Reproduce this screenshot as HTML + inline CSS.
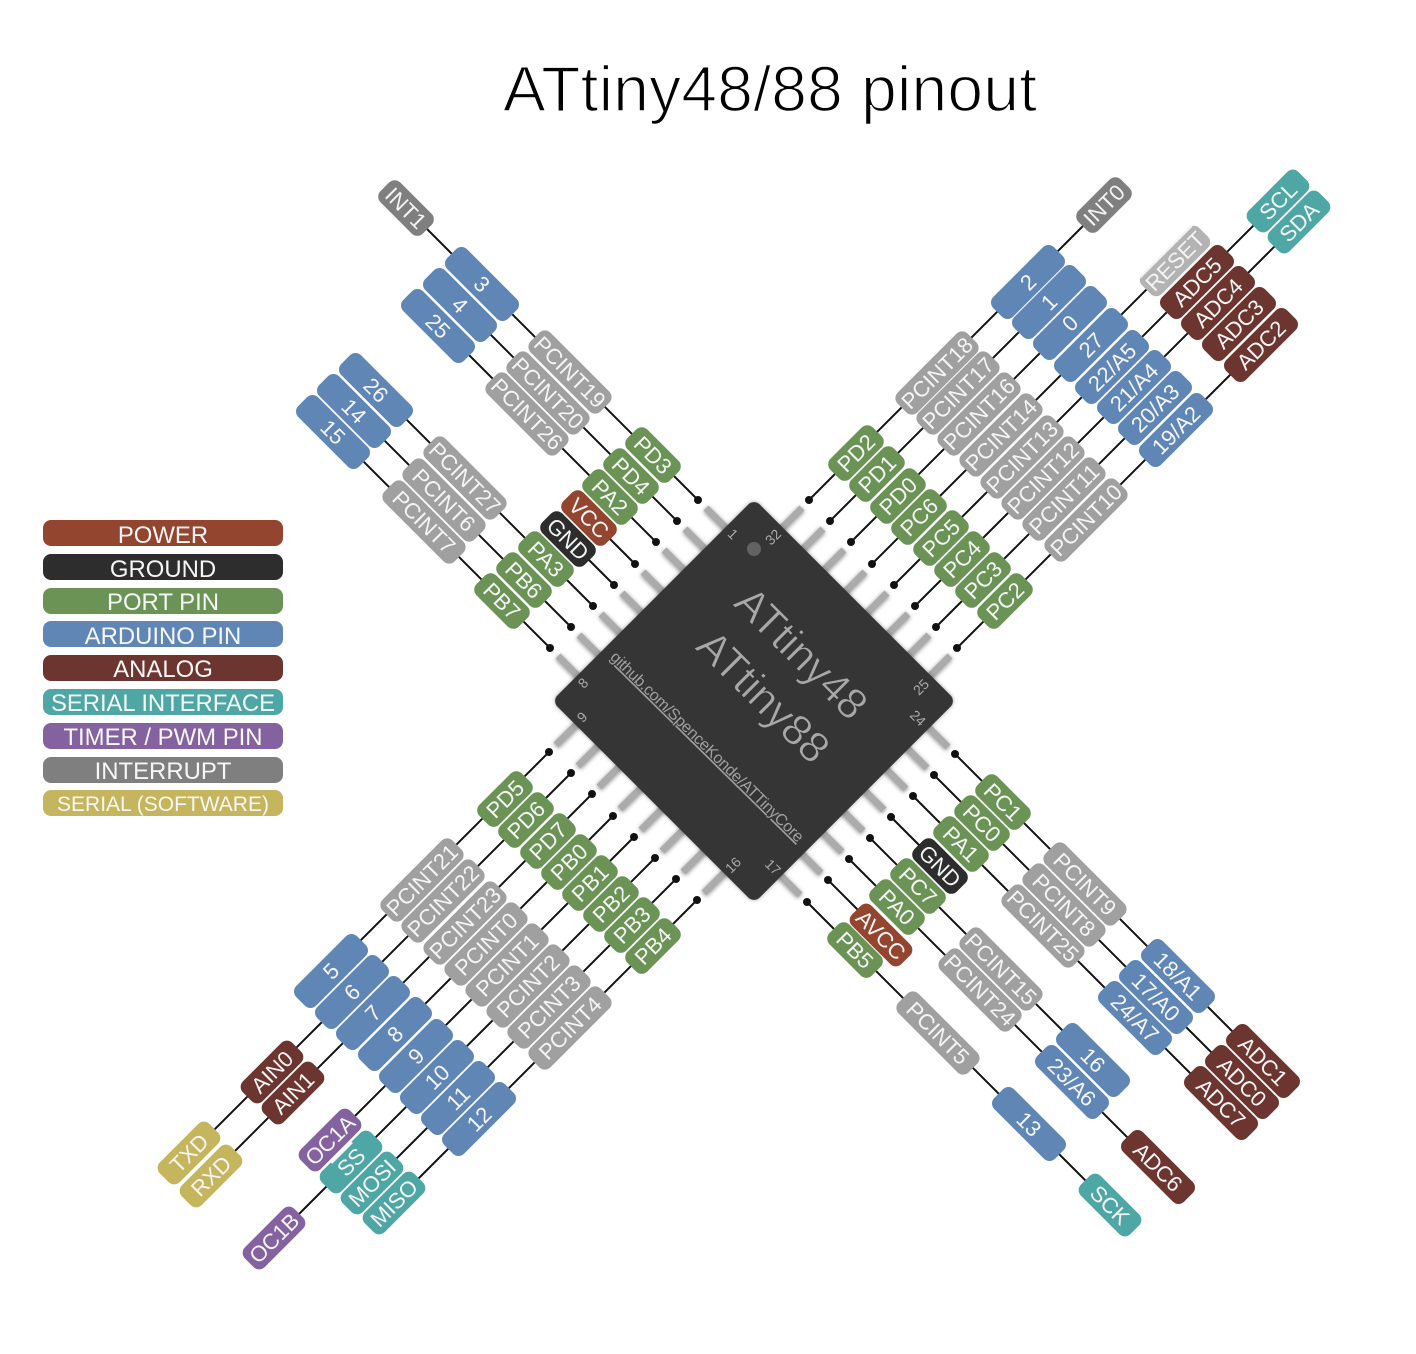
<!DOCTYPE html>
<html><head><meta charset="utf-8"><title>ATtiny48/88 pinout</title>
<style>
html,body{margin:0;padding:0;background:#fff}
svg{display:block}
text{font-family:"Liberation Sans",sans-serif}
.P text{font-size:22px;fill:#f4f4f4;text-anchor:middle;transform:translateY(.8px)}
.P rect{y:-14px;height:28px;rx:8px;ry:8px}
.s{x:-30px;width:60px}.m{x:-35px;width:70px}.a{x:-43px;width:86px}.c{x:-49.5px;width:99px}.r{x:-40.5px;width:81px}
.pow{fill:#93452f}.gnd{fill:#2d2d2d}.prt{fill:#6c9356}.ard{fill:#5f86b4}.ana{fill:#6c3530}.ser{fill:#4ea7a5}.tim{fill:#84619f}.int{fill:#7f7f7f}.sft{fill:#c5b55d}.pci{fill:#a0a0a0}.rst{fill:#b3b3b3}
.L text{font-size:23.9px;fill:#f6f6f6;text-anchor:middle}
.n{font-size:14px;fill:#aaa;text-anchor:middle}
</style></head><body>
<svg xmlns="http://www.w3.org/2000/svg" width="1416" height="1354" viewBox="0 0 1416 1354">
<defs><filter id="sh" x="-10%" y="-10%" width="120%" height="120%"><feDropShadow dx="0" dy="1" stdDeviation="2.2" flood-color="#000" flood-opacity=".45"/></filter>
<filter id="cs" x="-10%" y="-10%" width="120%" height="120%"><feDropShadow dx="0" dy="0" stdDeviation="2" flood-color="#000" flood-opacity=".35"/></filter></defs>

<text x="503" y="111" font-size="64" fill="#000" stroke="#fff" stroke-width="1.5" textLength="534">ATtiny48/88 pinout</text>

<!-- legend -->
<g class="L">
<rect x="43" y="520" width="240" height="26" rx="8" class="pow"/><text x="163" y="543">POWER</text>
<rect x="43" y="554" width="240" height="26" rx="8" class="gnd"/><text x="163" y="577">GROUND</text>
<rect x="43" y="588" width="240" height="26" rx="8" class="prt"/><text x="163" y="610">PORT PIN</text>
<rect x="43" y="621" width="240" height="26" rx="8" class="ard"/><text x="163" y="644">ARDUINO PIN</text>
<rect x="43" y="655" width="240" height="26" rx="8" class="ana"/><text x="163" y="677">ANALOG</text>
<rect x="43" y="689" width="240" height="26" rx="8" class="ser"/><text x="163" y="711" textLength="224">SERIAL INTERFACE</text>
<rect x="43" y="723" width="240" height="26" rx="8" class="tim"/><text x="163" y="745">TIMER / PWM PIN</text>
<rect x="43" y="757" width="240" height="26" rx="8" class="int"/><text x="163" y="779">INTERRUPT</text>
<rect x="43" y="790" width="240" height="26" rx="8" class="sft"/><text x="163" y="811" style="font-size:21px">SERIAL (SOFTWARE)</text>
</g>

<!-- connector lines -->
<g stroke="#111" stroke-width="2" fill="none">
<path d="M698 500L406 208M677 521L460 304M656 542L438 324M635 564L589 518M614 585L568 539M593 606L375 388M571 627L354 410M550 648L333 431"/>
<path d="M809 500L1104 205M830 521L1049 302M851 542L1070 323M872 564L1175 261M894 585L1278 201M915 606L1299 222M936 627L1155 408M957 648L1261 344"/>
<path d="M549 752L331 970M571 773L189 1155M592 794L211 1175M613 816L395 1034M634 837L330 1141M655 858L274 1239M676 879L372 1183M697 900L394 1203"/>
<path d="M955 754L1263 1062M934 775L1242 1083M913 796L1221 1104M891 817L940 866M870 838L1093 1061M849 859L1158 1168M828 880L881 933M807 902L1110 1205"/>
</g>
<g fill="#111">
<circle cx="698" cy="500" r="4"/><circle cx="677" cy="521" r="4"/><circle cx="656" cy="542" r="4"/><circle cx="635" cy="564" r="4"/><circle cx="614" cy="585" r="4"/><circle cx="593" cy="606" r="4"/><circle cx="571" cy="627" r="4"/><circle cx="550" cy="648" r="4"/>
<circle cx="809" cy="500" r="4"/><circle cx="830" cy="521" r="4"/><circle cx="851" cy="542" r="4"/><circle cx="872" cy="564" r="4"/><circle cx="894" cy="585" r="4"/><circle cx="915" cy="606" r="4"/><circle cx="936" cy="627" r="4"/><circle cx="957" cy="648" r="4"/>
<circle cx="549" cy="752" r="4"/><circle cx="571" cy="773" r="4"/><circle cx="592" cy="794" r="4"/><circle cx="613" cy="816" r="4"/><circle cx="634" cy="837" r="4"/><circle cx="655" cy="858" r="4"/><circle cx="676" cy="879" r="4"/><circle cx="697" cy="900" r="4"/>
<circle cx="955" cy="754" r="4"/><circle cx="934" cy="775" r="4"/><circle cx="913" cy="796" r="4"/><circle cx="891" cy="817" r="4"/><circle cx="870" cy="838" r="4"/><circle cx="849" cy="859" r="4"/><circle cx="828" cy="880" r="4"/><circle cx="807" cy="902" r="4"/>
</g>

<!-- leads -->
<g stroke="#ababab" stroke-width="7" fill="none" filter="url(#sh)">
<path d="M706 508l34 34M685 529l34 34M664 550l34 34M643 572l34 34M622 593l34 34M601 614l34 34M579 635l34 34M558 656l34 34"/>
<path d="M802 508l-34 34M823 529l-34 34M844 550l-34 34M865 572l-34 34M887 593l-34 34M908 614l-34 34M929 635l-34 34M950 656l-34 34"/>
<path d="M556 745l34 -34M578 766l34 -34M599 787l34 -34M620 809l34 -34M641 830l34 -34M662 851l34 -34M683 872l34 -34M704 893l34 -34"/>
<path d="M948 747l-34 -34M927 768l-34 -34M906 789l-34 -34M884 810l-34 -34M863 831l-34 -34M842 852l-34 -34M821 873l-34 -34M800 895l-34 -34"/>
</g>

<!-- chip -->
<g transform="translate(754 701) rotate(45)" filter="url(#cs)"><rect x="-143" y="-143" width="286" height="286" rx="8" fill="#363636"/></g>
<circle cx="754" cy="549" r="7" fill="#626262"/>
<g fill="#a8a8a8" text-anchor="middle">
<g transform="translate(802 652.5) rotate(45)"><text y="15.5" font-size="43" stroke="#363636" stroke-width=".7">ATtiny48</text></g>
<g transform="translate(764 696) rotate(45)"><text y="15.5" font-size="43" stroke="#363636" stroke-width=".7">ATtiny88</text></g>
<g transform="translate(707 747) rotate(44.5)"><text y="5" font-size="16" textLength="264" fill="#a0a0a0" style="text-decoration:underline">github.com/SpenceKonde/ATTinyCore</text></g>
</g>
<text class="n" transform="translate(733 534) rotate(45)" y="5">1</text>
<text class="n" transform="translate(773 537) rotate(-45)" y="5">32</text>
<text class="n" transform="translate(583 683) rotate(-45)" y="5">8</text>
<text class="n" transform="translate(582 717) rotate(-45)" y="5">9</text>
<text class="n" transform="translate(733 865) rotate(-45)" y="5">16</text>
<text class="n" transform="translate(773 867) rotate(45)" y="5">17</text>
<text class="n" transform="translate(921 687) rotate(-45)" y="5">25</text>
<text class="n" transform="translate(918 718) rotate(45)" y="5">24</text>

<!-- pills: upper-left -->
<g class="P">
<g transform="translate(406 208) rotate(45)"><rect class="s int"/><text y="7">INT1</text></g>
<g transform="translate(653 455) rotate(45)"><rect class="s prt"/><text y="7">PD3</text></g>
<g transform="translate(570 372) rotate(45)"><rect class="c pci"/><text y="7">PCINT19</text></g>
<g transform="translate(482 284) rotate(45)"><rect class="a ard"/><text y="7">3</text></g>
<g transform="translate(631 476) rotate(45)"><rect class="s prt"/><text y="7">PD4</text></g>
<g transform="translate(548 393) rotate(45)"><rect class="c pci"/><text y="7">PCINT20</text></g>
<g transform="translate(460 305) rotate(45)"><rect class="a ard"/><text y="7">4</text></g>
<g transform="translate(610 497) rotate(45)"><rect class="s prt"/><text y="7">PA2</text></g>
<g transform="translate(527 414) rotate(45)"><rect class="c pci"/><text y="7">PCINT26</text></g>
<g transform="translate(438 326) rotate(45)"><rect class="a ard"/><text y="7">25</text></g>
<g transform="translate(589 518) rotate(45)"><rect class="s pow"/><text y="7">VCC</text></g>
<g transform="translate(568 539) rotate(45)"><rect class="s gnd"/><text y="7">GND</text></g>
<g transform="translate(546 559) rotate(45)"><rect class="s prt"/><text y="7">PA3</text></g>
<g transform="translate(465 478) rotate(45)"><rect class="c pci"/><text y="7">PCINT27</text></g>
<g transform="translate(376 390) rotate(45)"><rect class="a ard"/><text y="7">26</text></g>
<g transform="translate(524 580) rotate(45)"><rect class="s prt"/><text y="7">PB6</text></g>
<g transform="translate(444 500) rotate(45)"><rect class="c pci"/><text y="7">PCINT6</text></g>
<g transform="translate(354 411) rotate(45)"><rect class="a ard"/><text y="7">14</text></g>
<g transform="translate(502 601) rotate(45)"><rect class="s prt"/><text y="7">PB7</text></g>
<g transform="translate(424 522) rotate(45)"><rect class="c pci"/><text y="7">PCINT7</text></g>
<g transform="translate(333 432) rotate(45)"><rect class="a ard"/><text y="7">15</text></g>

<!-- upper-right -->
<g transform="translate(1104 205) rotate(-45)"><rect class="s int"/><text y="7">INT0</text></g>
<g transform="translate(856 453) rotate(-45)"><rect class="s prt"/><text y="7">PD2</text></g>
<g transform="translate(937 373) rotate(-45)"><rect class="c pci"/><text y="7">PCINT18</text></g>
<g transform="translate(1028 282) rotate(-45)"><rect class="a ard"/><text y="7">2</text></g>
<g transform="translate(877 474) rotate(-45)"><rect class="s prt"/><text y="7">PD1</text></g>
<g transform="translate(958 393) rotate(-45)"><rect class="c pci"/><text y="7">PCINT17</text></g>
<g transform="translate(1049 302) rotate(-45)"><rect class="a ard"/><text y="7">1</text></g>
<g transform="translate(898 496) rotate(-45)"><rect class="s prt"/><text y="7">PD0</text></g>
<g transform="translate(979 414) rotate(-45)"><rect class="c pci"/><text y="7">PCINT16</text></g>
<g transform="translate(1070 323) rotate(-45)"><rect class="a ard"/><text y="7">0</text></g>
<g transform="translate(919 517) rotate(-45)"><rect class="s prt"/><text y="7">PC6</text></g>
<g transform="translate(1001 435) rotate(-45)"><rect class="c pci"/><text y="7">PCINT14</text></g>
<g transform="translate(1091 345) rotate(-45)"><rect class="a ard"/><text y="7">27</text></g>
<g transform="translate(1175 261) rotate(-45)"><rect class="r rst"/><text y="7" style="text-decoration:overline">RESET</text></g>
<g transform="translate(941 538) rotate(-45)"><rect class="s prt"/><text y="7">PC5</text></g>
<g transform="translate(1022 457) rotate(-45)"><rect class="c pci"/><text y="7">PCINT13</text></g>
<g transform="translate(1112 367) rotate(-45)"><rect class="a ard"/><text y="7">22/A5</text></g>
<g transform="translate(1197 282) rotate(-45)"><rect class="a ana"/><text y="7">ADC5</text></g>
<g transform="translate(1278 201) rotate(-45)"><rect class="m ser"/><text y="7">SCL</text></g>
<g transform="translate(962 559) rotate(-45)"><rect class="s prt"/><text y="7">PC4</text></g>
<g transform="translate(1043 478) rotate(-45)"><rect class="c pci"/><text y="7">PCINT12</text></g>
<g transform="translate(1134 387) rotate(-45)"><rect class="a ard"/><text y="7">21/A4</text></g>
<g transform="translate(1218 303) rotate(-45)"><rect class="a ana"/><text y="7">ADC4</text></g>
<g transform="translate(1299 222) rotate(-45)"><rect class="m ser"/><text y="7">SDA</text></g>
<g transform="translate(983 580) rotate(-45)"><rect class="s prt"/><text y="7">PC3</text></g>
<g transform="translate(1064 499) rotate(-45)"><rect class="c pci"/><text y="7">PCINT11</text></g>
<g transform="translate(1155 408) rotate(-45)"><rect class="a ard"/><text y="7">20/A3</text></g>
<g transform="translate(1239 324) rotate(-45)"><rect class="a ana"/><text y="7">ADC3</text></g>
<g transform="translate(1005 601) rotate(-45)"><rect class="s prt"/><text y="7">PC2</text></g>
<g transform="translate(1086 520) rotate(-45)"><rect class="c pci"/><text y="7">PCINT10</text></g>
<g transform="translate(1176 430) rotate(-45)"><rect class="a ard"/><text y="7">19/A2</text></g>
<g transform="translate(1261 345) rotate(-45)"><rect class="a ana"/><text y="7">ADC2</text></g>

<!-- lower-left -->
<g transform="translate(505 799) rotate(-45)"><rect class="s prt"/><text y="7">PD5</text></g>
<g transform="translate(422 880) rotate(-45)"><rect class="c pci"/><text y="7">PCINT21</text></g>
<g transform="translate(331 971) rotate(-45)"><rect class="a ard"/><text y="7">5</text></g>
<g transform="translate(526 820) rotate(-45)"><rect class="s prt"/><text y="7">PD6</text></g>
<g transform="translate(443 901) rotate(-45)"><rect class="c pci"/><text y="7">PCINT22</text></g>
<g transform="translate(352 992) rotate(-45)"><rect class="a ard"/><text y="7">6</text></g>
<g transform="translate(272 1072) rotate(-45)"><rect class="m ana"/><text y="7">AIN0</text></g>
<g transform="translate(189 1153) rotate(-45)"><rect class="m sft"/><text y="7">TXD</text></g>
<g transform="translate(548 841) rotate(-45)"><rect class="s prt"/><text y="7">PD7</text></g>
<g transform="translate(465 923) rotate(-45)"><rect class="c pci"/><text y="7">PCINT23</text></g>
<g transform="translate(373 1013) rotate(-45)"><rect class="a ard"/><text y="7">7</text></g>
<g transform="translate(293 1093) rotate(-45)"><rect class="m ana"/><text y="7">AIN1</text></g>
<g transform="translate(211 1176) rotate(-45)"><rect class="m sft"/><text y="7">RXD</text></g>
<g transform="translate(569 862) rotate(-45)"><rect class="s prt"/><text y="7">PB0</text></g>
<g transform="translate(486 944) rotate(-45)"><rect class="c pci"/><text y="7">PCINT0</text></g>
<g transform="translate(395 1034) rotate(-45)"><rect class="a ard"/><text y="7">8</text></g>
<g transform="translate(590 883) rotate(-45)"><rect class="s prt"/><text y="7">PB1</text></g>
<g transform="translate(507 965) rotate(-45)"><rect class="c pci"/><text y="7">PCINT1</text></g>
<g transform="translate(416 1056) rotate(-45)"><rect class="a ard"/><text y="7">9</text></g>
<g transform="translate(330 1140) rotate(-45)"><rect class="m tim"/><text y="7">OC1A</text></g>
<g transform="translate(611 904) rotate(-45)"><rect class="s prt"/><text y="7">PB2</text></g>
<g transform="translate(528 986) rotate(-45)"><rect class="c pci"/><text y="7">PCINT2</text></g>
<g transform="translate(437 1077) rotate(-45)"><rect class="a ard"/><text y="7">10</text></g>
<g transform="translate(351 1162) rotate(-45)"><rect class="m ser"/><text y="7" style="text-decoration:overline">SS</text></g>
<g transform="translate(274 1238) rotate(-45)"><rect class="m tim"/><text y="7">OC1B</text></g>
<g transform="translate(632 925) rotate(-45)"><rect class="s prt"/><text y="7">PB3</text></g>
<g transform="translate(549 1007) rotate(-45)"><rect class="c pci"/><text y="7">PCINT3</text></g>
<g transform="translate(458 1098) rotate(-45)"><rect class="a ard"/><text y="7">11</text></g>
<g transform="translate(372 1183) rotate(-45)"><rect class="m ser"/><text y="7">MOSI</text></g>
<g transform="translate(653 946) rotate(-45)"><rect class="s prt"/><text y="7">PB4</text></g>
<g transform="translate(570 1028) rotate(-45)"><rect class="c pci"/><text y="7">PCINT4</text></g>
<g transform="translate(479 1119) rotate(-45)"><rect class="a ard"/><text y="7">12</text></g>
<g transform="translate(394 1203) rotate(-45)"><rect class="m ser"/><text y="7">MISO</text></g>

<!-- lower-right -->
<g transform="translate(1003 802) rotate(45)"><rect class="s prt"/><text y="7">PC1</text></g>
<g transform="translate(1085 884) rotate(45)"><rect class="c pci"/><text y="7">PCINT9</text></g>
<g transform="translate(1178 976) rotate(45)"><rect class="a ard"/><text y="7">18/A1</text></g>
<g transform="translate(1263 1061) rotate(45)"><rect class="a ana"/><text y="7">ADC1</text></g>
<g transform="translate(982 823) rotate(45)"><rect class="s prt"/><text y="7">PC0</text></g>
<g transform="translate(1064 905) rotate(45)"><rect class="c pci"/><text y="7">PCINT8</text></g>
<g transform="translate(1156 997) rotate(45)"><rect class="a ard"/><text y="7">17/A0</text></g>
<g transform="translate(1242 1082) rotate(45)"><rect class="a ana"/><text y="7">ADC0</text></g>
<g transform="translate(961 844) rotate(45)"><rect class="s prt"/><text y="7">PA1</text></g>
<g transform="translate(1043 926) rotate(45)"><rect class="c pci"/><text y="7">PCINT25</text></g>
<g transform="translate(1135 1018) rotate(45)"><rect class="a ard"/><text y="7">24/A7</text></g>
<g transform="translate(1221 1103) rotate(45)"><rect class="a ana"/><text y="7">ADC7</text></g>
<g transform="translate(940 866) rotate(45)"><rect class="s gnd"/><text y="7">GND</text></g>
<g transform="translate(918 886) rotate(45)"><rect class="s prt"/><text y="7">PC7</text></g>
<g transform="translate(1001 969) rotate(45)"><rect class="c pci"/><text y="7">PCINT15</text></g>
<g transform="translate(1093 1060) rotate(45)"><rect class="a ard"/><text y="7">16</text></g>
<g transform="translate(897 907) rotate(45)"><rect class="s prt"/><text y="7">PA0</text></g>
<g transform="translate(980 990) rotate(45)"><rect class="c pci"/><text y="7">PCINT24</text></g>
<g transform="translate(1072 1082) rotate(45)"><rect class="a ard"/><text y="7">23/A6</text></g>
<g transform="translate(1158 1167) rotate(45)"><rect class="a ana"/><text y="7">ADC6</text></g>
<g transform="translate(881 935) rotate(45)"><rect class="m pow"/><text y="7">AVCC</text></g>
<g transform="translate(855 950) rotate(45)"><rect class="s prt"/><text y="7">PB5</text></g>
<g transform="translate(938 1033) rotate(45)"><rect class="c pci"/><text y="7">PCINT5</text></g>
<g transform="translate(1029 1124) rotate(45)"><rect class="a ard"/><text y="7">13</text></g>
<g transform="translate(1110 1205) rotate(45)"><rect class="m ser"/><text y="7">SCK</text></g>
</g>
</svg>
</body></html>
